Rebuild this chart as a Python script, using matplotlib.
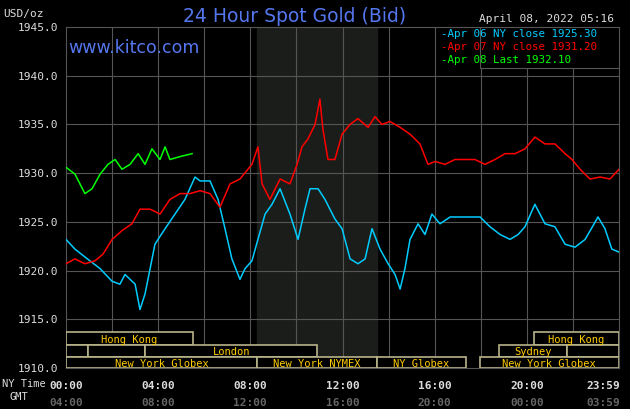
import matplotlib
matplotlib.use("Agg")
import matplotlib.pyplot as plt
from matplotlib.patches import Rectangle

cyan_h = [0,.39,.82,1.48,2.0,2.34,2.56,3.0,3.21,3.43,3.65,3.86,4.3,4.73,5.16,5.6,5.82,6.25,6.6,6.9,7.2,7.55,7.77,8.07,8.33,8.64,8.94,9.29,9.72,10.07,10.37,10.59,10.94,11.24,11.67,11.98,12.33,12.67,12.98,13.28,13.63,13.98,14.28,14.5,14.71,14.93,15.28,15.58,15.88,16.23,16.67,17.1,17.53,17.97,18.4,18.84,19.27,19.62,19.92,20.35,20.79,21.22,21.66,22.09,22.53,23.09,23.39,23.69,24.0]
cyan_p = [1923.2,1922.2,1921.4,1920.2,1918.9,1918.6,1919.6,1918.6,1916.0,1917.6,1920.2,1922.7,1924.3,1925.8,1927.3,1929.6,1929.2,1929.2,1927.3,1924.3,1921.2,1919.1,1920.2,1921.0,1923.2,1925.8,1926.8,1928.4,1925.8,1923.2,1926.3,1928.4,1928.4,1927.3,1925.3,1924.3,1921.2,1920.7,1921.2,1924.3,1922.2,1920.7,1919.6,1918.1,1920.2,1923.2,1924.8,1923.7,1925.8,1924.8,1925.5,1925.5,1925.5,1925.5,1924.5,1923.7,1923.2,1923.7,1924.5,1926.8,1924.8,1924.5,1922.7,1922.4,1923.2,1925.5,1924.3,1922.2,1921.9]
red_h = [0,.39,.82,1.26,1.61,2.0,2.43,2.86,3.21,3.65,4.08,4.51,4.95,5.38,5.82,6.25,6.68,7.12,7.55,8.07,8.33,8.51,8.85,9.29,9.72,10.03,10.24,10.5,10.81,11.02,11.15,11.37,11.67,11.98,12.33,12.67,13.11,13.41,13.71,14.06,14.5,14.93,15.36,15.71,16.02,16.45,16.88,17.32,17.75,18.18,18.62,19.05,19.49,19.92,20.35,20.79,21.22,21.66,21.96,22.31,22.74,23.18,23.61,24.0]
red_p = [1920.7,1921.2,1920.7,1921.0,1921.7,1923.2,1924.1,1924.8,1926.3,1926.3,1925.8,1927.3,1927.9,1927.9,1928.2,1927.9,1926.5,1928.9,1929.4,1930.9,1932.7,1928.9,1927.3,1929.4,1928.9,1930.9,1932.7,1933.5,1935.0,1937.6,1934.5,1931.4,1931.4,1934.0,1935.0,1935.6,1934.7,1935.8,1935.0,1935.3,1934.7,1934.0,1933.0,1930.9,1931.2,1930.9,1931.4,1931.4,1931.4,1930.9,1931.4,1932.0,1932.0,1932.5,1933.7,1933.0,1933.0,1932.0,1931.4,1930.4,1929.4,1929.6,1929.4,1930.4]
green_h = [0,.39,.82,1.13,1.48,1.82,2.13,2.43,2.78,3.13,3.43,3.73,4.08,4.3,4.51,4.95,5.47]
green_p = [1930.6,1929.9,1927.9,1928.4,1929.9,1930.9,1931.4,1930.4,1930.9,1932.0,1930.9,1932.5,1931.4,1932.7,1931.4,1931.7,1932.0]

y_ticks = [1910, 1915, 1920, 1925, 1930, 1935, 1940, 1945]
ny_labels = ["00:00", "04:00", "08:00", "12:00", "16:00", "20:00", "23:59"]
gmt_labels = ["04:00", "08:00", "12:00", "16:00", "20:00", "00:00", "03:59"]
label_hours = [0, 4, 8, 12, 16, 20, 24]
legend = ["Apr 06 NY close 1925.30", "Apr 07 NY close 1931.20", "Apr 08 Last 1932.10"]
sessions = [(0, 0, 5.5, "Hong Kong"), (0, 20.3, 24, "Hong Kong"),
            (1, 0, 0.95, ""), (1, 0.95, 3.45, ""), (1, 3.45, 10.9, "London"), (1, 18.8, 21.75, "Sydney"), (1, 21.75, 24, ""),
            (2, 0, 8.3, "New York Globex"), (2, 8.3, 13.5, "New York NYMEX"), (2, 13.5, 17.35, "NY Globex"), (2, 17.95, 24, "New York Globex")]

mono = "DejaVu Sans Mono"
fig = plt.figure(figsize=(6.3, 4.1), dpi=100, facecolor="black")
ax = fig.add_axes([66/630, 1-369/410, 553/630, 341/410])
ax.set_facecolor("black")
ax.set_xlim(0, 24)
ax.set_ylim(1910, 1945)
ax.axvspan(8.3, 13.5, color="#1b1d1a", zorder=0)
for h in range(2, 24, 2):
    ax.axvline(h, color="#555555", lw=0.8, zorder=1)
for y in y_ticks[1:-1]:
    ax.axhline(y, color="#555555", lw=0.8, zorder=1)
for s in ax.spines.values():
    s.set_color("#555555")
ax.set_xticks([]); ax.set_yticks([])

ax.plot(cyan_h, cyan_p, color="#00ccff", lw=1.1, zorder=3)
ax.plot(red_h, red_p, color="#ff0000", lw=1.1, zorder=3)
ax.plot(green_h, green_p, color="#00ff00", lw=1.1, zorder=3)

row_y = [(1912.35, 1913.7), (1911.1, 1912.35), (1910, 1911.1)]
for row, a, b, lab in sessions:
    y0, y1 = row_y[row]
    ax.add_patch(Rectangle((a, y0), b-a, y1-y0, fill=True, fc="black", ec="#b8b48a", lw=1.2, zorder=4))
    if lab:
        ax.text((a+b)/2, (y0+y1)/2, lab, color="#ffcc00", fontsize=7.5, family=mono, ha="center", va="center", zorder=5)

for y in y_ticks:
    ax.text(-0.35, y, f"{y:.1f}", color="#dddddd", fontsize=8, family=mono, ha="right", va="center", clip_on=False)
fig.text(3/630, 1-14/410, "USD/oz", color="#dddddd", fontsize=8, family=mono, va="center")
for h, a, b in zip(label_hours, ny_labels, gmt_labels):
    ha = "right" if h == 24 else "center"
    xx = 24.05 if h == 24 else h
    ax.text(xx, 1908.3, a, color="#dddddd", fontsize=8, family=mono, weight="bold", ha=ha, va="center", clip_on=False)
    ax.text(xx, 1906.5, b, color="#666666", fontsize=8, family=mono, weight="bold", ha=ha, va="center", clip_on=False)
fig.text(2/630, 1-384/410, "NY Time", color="#dddddd", fontsize=7.5, family=mono, va="center")
fig.text(10/630, 1-397/410, "GMT", color="#dddddd", fontsize=7.5, family=mono, va="center")

fig.text(295/630, 1-16/410, "24 Hour Spot Gold (Bid)", color="#5577ee", fontsize=13.5, ha="center", va="center")
fig.text(614/630, 1-19/410, "April 08, 2022 05:16", color="#dddddd", fontsize=8, family=mono, ha="right", va="center")
fig.text(68/630, 1-48/410, "www.kitco.com", color="#5577ee", fontsize=12.5, va="center")

ax.add_patch(Rectangle((17.95, 1940.8), 6.05, 4.2, fc="black", ec="#555555", lw=0.8, zorder=4))
for i, (t, c) in enumerate(zip(legend, ["#00ccff", "#ff0000", "#00ff00"])):
    fig.text(441/630, 1-(34+i*13)/410, "-" + t, color=c, fontsize=7.8, family=mono, va="center", zorder=6)

fig.savefig("out.png", dpi=100, facecolor="black")
